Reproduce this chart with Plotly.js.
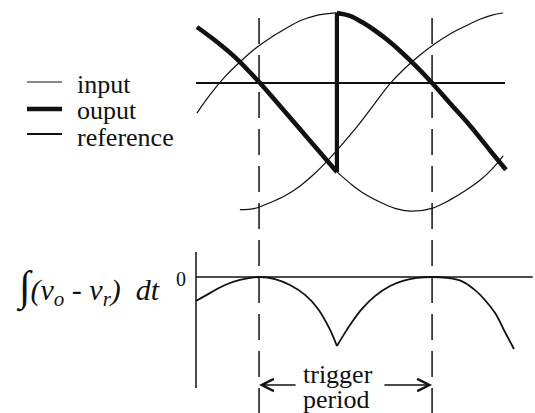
<!DOCTYPE html>
<html>
<head>
<meta charset="utf-8">
<script src="https://cdn.plot.ly/plotly-3.0.1.min.js"></script>
<style>
  html, body { margin: 0; padding: 0; background: #fff; }
  #chart { width: 535px; height: 413px; }
</style>
</head>
<body>
<div id="chart"></div>
<script>
// Time axis (arbitrary units) shared by both panels
// Input waveform (thin)
const inputT = [0.03, 0.45, 0.94, 1.42, 1.91, 2.39, 2.88, 3.37, 3.85, 4.27, 4.56, 4.98, 5.37, 5.79, 6.21, 6.60, 7.12, 7.64, 8.22, 8.87, 9.51, 10.03];
const inputV = [-0.43, -0.17, 0.09, 0.30, 0.49, 0.64, 0.77, 0.89, 0.96, 0.99, 1.00, 0.96, 0.87, 0.75, 0.61, 0.46, 0.24, 0.00, -0.29, -0.61, -0.96, -1.24];

// Shifted waveform: followed by the output before the switch, thin afterwards
const shiftT = [0.03, 0.61, 1.26, 2.07, 2.72, 3.37, 4.01, 4.56, 4.98, 5.37, 5.95, 6.44, 6.93, 7.64, 8.22, 8.71, 9.19, 9.58, 9.94];
const shiftV = [0.80, 0.61, 0.37, 0.00, -0.33, -0.66, -0.99, -1.27, -1.43, -1.56, -1.70, -1.79, -1.83, -1.79, -1.67, -1.54, -1.39, -1.23, -1.04];

// Reference waveform
const refT = [1.42, 1.91, 2.39, 2.88, 3.37, 3.85, 4.34, 4.82, 5.31, 5.79, 6.28, 6.76, 7.25, 7.73, 8.22, 8.71, 9.19, 9.58, 9.94];
const refV = [-1.81, -1.79, -1.71, -1.61, -1.47, -1.29, -1.07, -0.83, -0.57, -0.29, -0.01, 0.21, 0.40, 0.56, 0.70, 0.81, 0.91, 0.97, 1.00];

// Switching instant of the output
const switchT = 4.56;

// Integral of (vo - vr) over time, two arcs meeting at the cusp
const integT1 = [0.00, 0.45, 0.94, 1.42, 2.04, 2.56, 3.04, 3.53, 3.95, 4.34, 4.56];
const integW1 = [-1.04, -0.70, -0.35, -0.13, 0.00, -0.09, -0.35, -0.78, -1.39, -2.30, -3.00];
const integT2 = [4.56, 4.82, 5.05, 5.37, 5.79, 6.28, 6.70, 7.15, 7.64, 8.12, 8.58, 9.03, 9.35, 9.68, 10.00, 10.29];
const integW2 = [-3.00, -2.43, -1.96, -1.39, -0.83, -0.39, -0.17, -0.04, 0.00, -0.04, -0.17, -0.57, -1.00, -1.57, -2.39, -3.13];

// Trigger instants (zero crossings of the integral)
const triggerT = [2.04, 7.64];

// Legend labels
const seriesNames = ['input', 'ouput', 'reference'];

// ---------------------------------------------------------------
const W = 535, H = 413;
const px = c => c / W;          // pixel column -> paper x
const py = r => 1 - r / H;      // pixel row -> paper y
const ink = '#111';
const serif = "'Liberation Serif', 'Times New Roman', serif";

// Output: first part on the shifted wave, jump at the switch, then the input
const iSw = shiftT.indexOf(switchT);
const jSw = inputT.indexOf(switchT);
const outA = { x: shiftT.slice(0, iSw + 1), y: shiftV.slice(0, iSw + 1) };
const outB = { x: inputT.slice(jSw), y: inputV.slice(jSw) };

const thin = { color: ink, width: 1.2, shape: 'spline', smoothing: 1 };
const thick = { color: ink, width: 4.6, shape: 'spline', smoothing: 1 };
const integLine = { color: ink, width: 1.8, shape: 'spline', smoothing: 1 };

const traces = [
  { x: inputT, y: inputV, mode: 'lines', line: thin, name: seriesNames[0] },
  { x: shiftT.slice(iSw), y: shiftV.slice(iSw), mode: 'lines', line: thin, name: 'shifted' },
  { x: refT, y: refV, mode: 'lines', line: thin, name: seriesNames[2] },
  { x: outA.x, y: outA.y, mode: 'lines', line: thick, name: seriesNames[1] },
  { x: [switchT, switchT], y: [shiftV[iSw], inputV[jSw]], mode: 'lines',
    line: { color: ink, width: 4.2 }, name: seriesNames[1] },
  { x: outB.x, y: outB.y, mode: 'lines', line: thick, name: seriesNames[1] },
  { x: integT1, y: integW1, xaxis: 'x', yaxis: 'y2', mode: 'lines', line: integLine, name: 'integral' },
  { x: integT2, y: integW2, xaxis: 'x', yaxis: 'y2', mode: 'lines', line: integLine, name: 'integral' }
];

const shapes = [
  // zero line of the upper panel
  { type: 'line', xref: 'x', yref: 'y', x0: 0, x1: 10.0, y0: 0, y1: 0, line: { color: ink, width: 2 } },
  // axes of the integral panel
  { type: 'line', xref: 'x', yref: 'y2', x0: 0, x1: 10.9, y0: 0, y1: 0, line: { color: ink, width: 1.5 } },
  { type: 'line', xref: 'x', yref: 'y2', x0: 0, x1: 0, y0: 1.09, y1: -4.83, line: { color: ink, width: 1.5 } }
];
triggerT.forEach(t => shapes.push({
  type: 'line', xref: 'x', yref: 'paper', x0: t, x1: t, y0: py(18), y1: 0,
  line: { color: ink, width: 1.5, dash: '26px,11px' }
}));

// hand-placed legend
const legendRows = [82, 109, 134];
const legendText = [84, 111, 138];
const legendWidths = [1.2, 4.6, 1.8];
legendRows.forEach((r, i) => shapes.push({
  type: 'line', xref: 'paper', yref: 'paper', x0: px(27), x1: px(62), y0: py(r), y1: py(r),
  line: { color: ink, width: legendWidths[i] }
}));

const annotations = seriesNames.map((name, i) => ({
  text: name, xref: 'paper', yref: 'paper', x: px(75), y: py(legendText[i]),
  xanchor: 'left', yanchor: 'middle', showarrow: false,
  font: { family: serif, size: 26, color: ink }
}));

annotations.push(
  { text: '0', xref: 'paper', yref: 'paper', x: px(188), y: py(279), xanchor: 'right', yanchor: 'middle',
    showarrow: false, font: { family: serif, size: 20, color: ink } },
  { text: '<span style="font-size:42px">∫</span><i>(v<sub>o</sub>&nbsp;-&nbsp;v<sub>r</sub>)&nbsp;&nbsp;dt</i>',
    xref: 'paper', yref: 'paper', x: px(14), y: py(287), xanchor: 'left', yanchor: 'middle',
    showarrow: false, font: { family: serif, size: 30, color: ink } },
  { text: 'trigger', xref: 'paper', yref: 'paper', x: px(338), y: py(374), xanchor: 'center', yanchor: 'middle',
    showarrow: false, font: { family: serif, size: 26, color: ink } },
  { text: 'period', xref: 'paper', yref: 'paper', x: px(336), y: py(399), xanchor: 'center', yanchor: 'middle',
    showarrow: false, font: { family: serif, size: 26, color: ink } }
);

// arrows spanning the trigger period
const arrowRow = py(385);
[[triggerT[0], 3.27], [triggerT[1], 6.05]].forEach(([tip, tail]) => annotations.push({
  text: '', xref: 'x', yref: 'paper', x: tip, y: arrowRow,
  axref: 'x', ayref: 'pixel', ax: tail, ay: 0,
  showarrow: true, arrowhead: 5, arrowsize: 1.6, arrowwidth: 1.5, arrowcolor: ink, standoff: 0
}));

const hiddenAxis = { visible: false, showgrid: false, zeroline: false, fixedrange: true };

const layout = {
  width: W, height: H,
  margin: { l: 0, r: 0, t: 0, b: 0, pad: 0 },
  paper_bgcolor: '#fff', plot_bgcolor: '#fff',
  font: { family: serif, color: ink },
  showlegend: false,
  xaxis: Object.assign({ range: [-196 / 30.9, (W - 196) / 30.9] }, hiddenAxis),
  yaxis: Object.assign({ domain: [0.4431, 1], range: [-2.1, 83 / 70] }, hiddenAxis),
  yaxis2: Object.assign({ domain: [0, 0.4431], range: [-5.913, 2.043] }, hiddenAxis),
  shapes: shapes,
  annotations: annotations
};

Plotly.newPlot('chart', traces, layout, { staticPlot: true, displayModeBar: false });
</script>
</body>
</html>
